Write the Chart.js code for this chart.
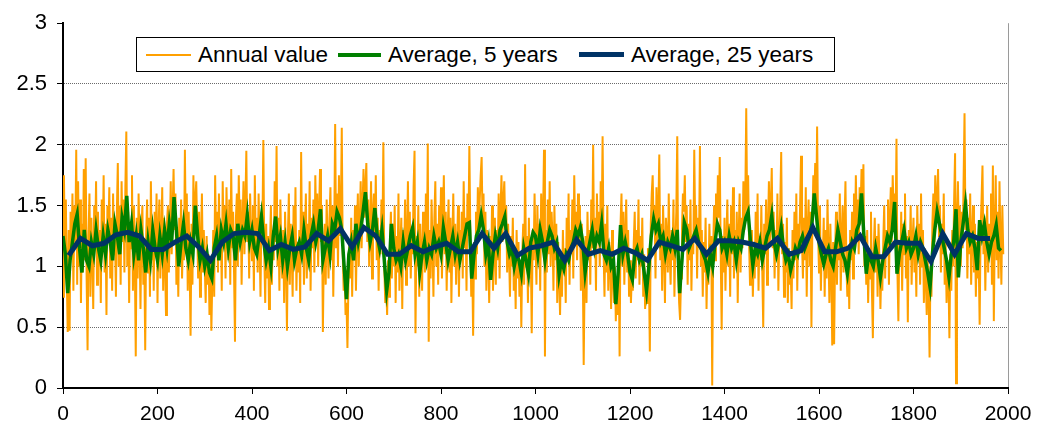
<!DOCTYPE html>
<html>
<head>
<meta charset="utf-8">
<script src="https://cdn.jsdelivr.net/npm/chart.js@4.4.1/dist/chart.umd.min.js"></script>
<style>
  body { margin: 0; background: #fff; font-family: Arial, "Liberation Sans", sans-serif; }
  #wrap { position: relative; width: 1041px; height: 437px; }
  #legend { position: absolute; left: 136px; top: 37px; width: 697px; height: 33px; border: 1px solid #000; background: #fff; }
  .sw { position: absolute; }
  .lb { position: absolute; top: 0; font-size: 22.5px; line-height: 33px; white-space: nowrap; color: #000; }
</style>
</head>
<body>
<div id="wrap">
  <canvas id="chart" width="1041" height="437"></canvas>
  <div id="legend">
    <span class="sw" style="left:9px;top:16px;width:45px;height:2px;background:#FFA000"></span>
    <span class="lb" style="left:61px">Annual value</span>
    <span class="sw" style="left:201px;top:15px;width:43px;height:4px;background:#008000"></span>
    <span class="lb" style="left:251px">Average, 5 years</span>
    <span class="sw" style="left:442px;top:14px;width:45px;height:5px;background:#003366"></span>
    <span class="lb" style="left:494px">Average, 25 years</span>
  </div>
</div>
<script>
// annual values, one every 2 years from year 0
const annualStart = 0, annualStep = 2;
const annualValues = [
  0.75,1.75,1.05,1.55,0.9,0.46,1.3,0.47,1.45,1.1, 1.6,0.8,1.5,1.2,1.96,0.85,1.7,1.0,1.55,0.7, 1.35,0.95,1.8,1.05,1.89,0.9,0.31,1.25,1.6,0.75, 1.4,1.1,0.65,1.5,1.2,1.7,0.85,1.45,1.0,1.3, 0.7,1.55,1.15,1.75,0.95,1.35,0.6,1.5,1.25,1.65,
  0.9,1.4,0.8,1.6,1.1,1.3,0.75,1.45,1.85,1.0, 1.5,0.85,1.7,1.2,1.55,0.95,1.65,2.11,1.0,1.45, 0.7,1.35,1.15,1.75,0.8,1.5,1.05,0.26,1.4,0.9, 1.6,1.2,0.65,1.3,1.5,0.85,1.1,0.31,1.25,1.55, 0.95,1.4,0.75,1.7,1.05,1.35,0.8,1.45,1.15,1.6,
  0.7,1.3,1.55,0.9,1.2,1.65,0.8,1.4,1.05,0.6, 1.35,1.5,0.95,1.25,1.7,1.1,1.45,1.8,1.3,1.6, 0.85,1.25,0.75,1.4,1.1,1.55,0.9,1.3,1.05,1.96, 1.2,1.6,0.8,1.45,1.0,0.43,1.35,0.85,1.75,1.25, 1.55,1.7,1.3,0.9,1.45,0.75,1.2,1.6,0.95,1.3,
  1.0,0.7,1.25,0.85,1.1,0.6,1.05,0.47,0.9,1.3, 0.75,1.75,1.15,1.45,0.95,1.6,1.1,1.35,0.8,1.7, 1.2,1.5,0.9,1.65,1.25,1.05,1.55,0.85,1.8,1.15, 1.45,0.95,0.38,1.4,1.6,1.0,1.75,1.3,1.55,0.85, 1.35,1.7,1.1,1.5,1.95,1.2,1.45,0.9,1.6,1.3,
  1.05,1.5,0.8,1.75,1.15,1.4,0.95,1.6,1.2,0.75, 1.45,1.3,2.04,1.1,0.7,1.35,0.9,1.25,0.65,1.15, 1.5,0.85,1.3,1.05,1.7,1.2,1.99,1.0,1.4,0.8, 1.55,1.15,0.9,1.3,0.7,1.45,1.05,0.47,1.25,1.6, 0.85,1.35,1.1,0.75,1.5,1.0,1.65,0.8,1.2,0.95,
  1.3,0.7,1.94,1.1,1.45,0.85,1.25,1.6,0.9,1.35, 1.05,1.7,0.8,1.4,1.15,1.55,0.95,1.75,1.3,1.6, 1.0,1.45,1.8,1.2,1.5,0.46,1.1,1.35,0.85,1.55, 1.2,0.9,1.4,1.65,1.05,1.5,0.75,1.3,2.17,1.15, 1.6,1.0,1.75,1.25,1.45,2.14,1.1,0.8,0.95,0.6,
  0.7,0.33,0.85,1.2,0.9,1.4,0.75,1.3,1.05,1.5, 0.8,1.25,1.6,1.0,1.35,1.7,1.15,1.5,1.8,1.4, 1.65,1.85,1.2,1.55,1.0,1.3,1.7,0.9,1.45,1.6, 1.25,1.75,1.05,1.4,0.8,1.3,1.1,1.55,1.2,2.02, 1.0,0.7,0.85,0.6,1.05,0.75,1.2,1.45,0.9,1.35,
  1.0,1.5,0.7,1.25,0.95,1.6,0.8,1.15,1.4,0.65, 1.3,1.05,1.55,0.85,1.2,1.7,1.0,1.45,0.9,1.3, 1.1,1.65,1.95,0.45,1.25,1.0,1.5,0.75,1.35,1.1, 0.8,1.45,1.2,0.95,1.6,1.05,2.01,0.38,1.3,0.9, 1.55,1.15,0.75,1.4,1.7,1.0,1.35,0.85,1.5,1.2,
  1.65,0.9,1.3,1.75,1.1,1.45,0.8,1.25,1.55,0.95, 1.4,0.7,1.2,1.6,1.0,1.35,0.85,1.15,1.5,0.75, 1.3,1.05,1.45,0.9,1.7,1.15,1.4,0.8,1.6,1.25, 1.99,1.3,0.75,1.05,0.43,1.2,0.9,1.45,1.1,1.65, 1.3,1.55,1.75,1.9,1.35,1.6,1.0,1.45,0.8,1.3,
  1.1,0.7,1.25,0.95,1.5,0.8,1.15,1.4,0.85,1.3, 1.05,1.6,0.9,1.45,1.75,1.2,1.55,1.7,1.3,1.5, 0.95,1.35,1.1,0.75,1.25,1.0,1.4,0.8,1.15,0.65, 1.3,0.9,1.2,0.75,1.05,0.5,1.1,1.35,0.85,1.84, 1.0,1.25,0.7,1.4,0.9,1.15,0.45,1.3,1.05,1.6,
  1.2,0.85,1.5,1.05,1.35,0.8,1.6,1.15,1.4,1.96, 0.26,1.3,0.95,1.55,1.1,1.7,1.0,1.45,1.25,0.8, 1.5,1.05,1.35,0.7,1.2,0.9,0.6,1.1,0.75,1.3, 0.95,1.15,0.7,1.4,1.05,1.6,0.85,1.3,1.1,1.55, 0.9,1.75,1.25,1.45,1.05,1.6,1.2,1.5,0.8,1.35,
  1.0,0.19,0.9,1.25,0.7,1.45,1.05,1.3,0.85,1.55, 1.15,2.0,1.1,1.4,0.8,1.6,1.2,1.45,1.0,1.7, 1.3,2.07,1.15,0.75,1.35,0.95,1.5,0.8,1.2,1.05, 0.65,1.3,0.9,0.7,1.0,0.55,0.85,0.6,1.1,0.26, 1.35,1.6,1.0,1.45,0.85,1.25,1.55,0.95,1.3,0.75,
  1.05,0.7,0.95,0.8,1.2,1.45,0.9,1.3,1.05,1.55, 0.85,1.25,1.0,1.4,0.75,1.1,0.65,0.9,0.7,1.15, 0.95,0.3,1.35,1.6,1.75,1.3,1.5,0.9,1.65,1.2, 1.45,1.92,1.05,1.35,0.8,1.5,1.15,0.7,1.4,1.25, 0.95,1.6,1.1,0.85,1.3,1.05,1.55,0.75,1.2,1.45,
  2.07,1.0,0.7,0.56,0.9,1.3,1.6,1.45,1.75,1.2, 1.5,0.85,1.35,1.05,1.55,0.8,1.25,1.1,1.96,1.3, 1.5,0.9,1.4,1.15,1.99,1.0,1.3,0.75,1.2,0.95, 1.4,0.65,1.1,0.85,1.35,1.0,1.25,0.02,1.15,1.5, 1.05,1.6,1.3,1.75,1.4,1.9,1.1,0.48,1.25,0.95,
  1.4,0.8,1.2,1.55,1.0,1.35,0.75,1.5,1.1,1.65, 0.9,1.3,1.05,1.45,0.7,1.25,1.6,0.95,1.4,1.15, 1.7,1.3,1.55,2.3,1.45,1.75,1.2,0.85,1.05,1.3, 0.75,1.1,0.9,1.45,1.0,1.6,0.8,1.25,1.05,1.5, 0.95,0.5,1.35,1.1,1.55,0.85,1.3,1.7,1.2,1.5,
  1.81,1.15,1.45,0.9,1.3,1.05,1.6,0.8,1.25,1.5, 1.94,1.1,1.35,0.75,1.2,0.95,1.4,0.7,1.15,0.85, 1.0,0.65,1.3,0.9,1.45,1.05,1.6,0.8,1.35,1.1, 1.5,1.91,1.2,0.9,1.4,1.05,1.65,0.75,1.3,1.55, 1.0,1.45,0.5,1.35,1.75,1.55,1.85,1.4,2.15,1.3,
  0.95,1.5,0.8,1.2,1.05,1.4,0.75,1.3,0.9,1.55, 1.1,0.7,1.35,1.0,0.35,1.2,0.36,1.1,1.45,0.85, 1.3,1.05,1.6,0.8,1.25,1.5,0.95,1.35,1.7,1.0, 0.75,1.15,0.65,1.3,1.05,1.45,0.9,1.6,1.2,1.75, 1.3,1.55,1.1,1.65,1.45,1.8,1.35,1.84,1.0,1.25,
  0.85,1.3,0.7,1.1,0.9,1.45,0.8,0.41,1.15,1.4, 0.95,1.25,0.75,1.35,1.05,0.65,1.0,0.8,1.2,1.5, 0.9,1.3,1.1,1.55,0.85,1.4,1.65,1.2,1.75,1.45, 1.6,1.3,2.05,0.95,0.55,1.2,1.0,1.45,0.8,1.35, 1.1,1.6,0.9,1.25,0.54,1.3,1.05,1.5,0.85,1.2,
  1.4,0.95,1.25,0.75,1.5,1.1,1.35,0.85,1.6,1.0, 1.3,0.7,1.15,0.9,0.6,1.05,0.8,0.25,1.0,0.75, 1.35,1.6,1.2,1.75,1.4,1.55,1.8,1.25,1.5,0.95, 1.35,1.1,1.6,0.85,1.2,0.7,1.05,0.9,0.41,1.1, 0.8,1.3,1.0,1.55,1.93,0.04,1.4,1.7,1.2,1.5,
  1.0,1.45,1.15,1.7,2.26,1.3,1.55,0.9,1.4,1.1, 1.6,0.85,1.25,1.5,0.95,1.35,0.75,1.2,0.9,1.05, 0.52,1.3,1.55,1.83,1.1,1.4,0.8,1.25,1.5,0.95, 1.35,1.15,1.6,0.85,1.83,0.55,1.3,1.75,1.05,1.45, 0.9,1.7,1.2,0.85,1.5,1.1
];

// 5-year average, every 5 years from year 0
const avg5Start = 0, avg5Step = 5;
const avg5Values = [
  1.25,1.1,0.78,1.05,1.2,1.35,1.43,1.15,0.95,1.3,1.05,1.0,1.2,1.1,1.3,1.15,1.05,1.25,1.1,1.3,
  1.2,1.05,1.35,1.25,1.1,1.4,1.3,1.58,1.2,1.35,1.1,1.25,1.05,1.3,1.15,0.95,1.2,1.05,1.3,1.15,
  1.05,1.25,1.1,1.3,1.15,1.35,1.2,1.57,1.3,1.0,1.2,1.35,1.15,1.05,1.2,1.1,1.5,1.25,1.05,1.15,
  1.0,1.1,0.95,0.9,1.15,1.25,1.05,1.3,1.2,1.35,1.15,1.3,1.25,1.05,1.35,1.2,1.3,1.25,1.42,1.2,
  1.3,1.15,1.1,1.25,1.41,1.2,1.05,1.15,1.0,1.25,1.41,1.15,1.25,1.05,1.2,1.0,1.15,1.25,1.05,1.15,
  1.2,1.1,1.3,1.15,1.05,1.25,1.35,1.2,1.3,1.47,1.05,1.15,1.25,1.1,1.35,1.3,1.45,1.4,1.3,1.0,
  0.73,1.1,1.2,1.05,1.35,1.2,1.3,1.45,1.61,1.35,1.2,1.3,1.48,1.25,1.15,1.3,1.05,0.8,0.95,1.35,
  1.15,1.05,1.1,1.0,1.2,1.05,1.15,1.25,1.32,1.1,1.2,0.95,1.1,1.2,1.05,1.15,1.1,1.25,1.15,1.2,
  1.1,1.32,1.2,1.05,1.15,1.25,1.1,1.2,1.05,1.15,1.25,1.35,1.36,0.9,1.1,1.25,1.3,1.42,1.3,1.1,
  1.2,0.89,1.1,1.25,1.15,1.3,1.35,1.41,1.2,1.1,1.15,1.0,1.1,1.05,0.94,1.15,1.05,0.94,1.2,1.28,
  1.25,1.1,1.3,1.2,1.05,1.2,1.3,1.25,1.15,1.2,0.93,1.05,0.98,1.1,1.05,1.15,1.2,1.3,1.25,1.32,
  1.2,0.95,1.1,1.2,1.3,1.15,1.25,1.2,1.35,1.1,1.05,1.15,1.0,1.05,0.69,0.95,1.34,1.1,1.2,1.1,
  0.95,0.89,1.1,1.15,1.05,1.1,0.95,0.8,1.0,1.25,1.39,1.3,1.35,1.2,1.25,1.1,1.2,1.15,1.25,1.15,
  1.3,0.78,1.05,1.36,1.3,1.15,1.2,1.25,1.3,1.2,1.15,1.1,1.05,0.95,1.1,1.0,1.2,1.35,1.3,1.15,
  1.2,1.1,1.25,1.15,1.2,1.05,1.2,1.15,1.3,1.4,1.45,1.2,1.01,1.15,1.1,1.2,1.05,1.15,1.25,1.3,
  1.42,1.2,1.1,1.2,1.32,1.15,1.05,1.1,0.97,1.05,1.15,1.1,1.2,1.25,1.15,1.2,1.25,1.35,1.6,1.4,
  1.2,1.1,1.02,1.1,1.15,1.05,1.0,1.15,1.3,1.2,1.1,1.05,0.94,1.1,1.2,1.15,1.3,1.35,1.6,1.25,
  0.94,1.1,1.05,1.0,1.15,1.05,0.91,1.05,1.15,1.25,1.2,1.3,1.53,0.94,1.1,1.2,1.3,1.15,1.2,1.1,
  1.15,1.25,1.1,1.2,1.15,1.05,0.95,0.83,1.1,1.3,1.45,1.35,1.25,1.15,1.05,0.91,1.1,1.2,1.47,0.91,
  1.2,1.35,1.51,1.3,1.2,1.25,1.15,0.97,1.38,1.25,1.35,1.2,1.1,1.2,1.25,1.34,1.15,1.13
];

// 25-year average, centred every 25 years from year 12
const avg25Start = 12, avg25Step = 25;
const avg25Values = [
  1.09,1.23,1.17,1.19,1.26,1.28,1.25,1.14,1.14,1.20,
  1.25,1.16,1.05,1.20,1.27,1.28,1.27,1.13,1.18,1.14,
  1.16,1.27,1.21,1.31,1.16,1.32,1.25,1.10,1.10,1.17,
  1.12,1.16,1.19,1.12,1.12,1.27,1.15,1.27,1.09,1.15,
  1.17,1.20,1.05,1.22,1.10,1.13,1.10,1.15,1.11,1.05,
  1.20,1.17,1.14,1.23,1.10,1.21,1.21,1.20,1.18,1.15,
  1.23,1.10,1.13,1.32,1.12,1.12,1.15,1.25,1.08,1.08,
  1.20,1.19,1.19,1.04,1.27,1.10,1.27,1.23,1.23
];

const seriesLabels = ['Annual value', 'Average, 5 years', 'Average, 25 years'];
const xTickLabels = ['0','200','400','600','800','1000','1200','1400','1600','1800','2000'];
const yTickLabels = ['0','0.5','1','1.5','2','2.5','3'];

function toPoints(values, start, step) {
  return values.map((v, i) => ({x: start + i * step, y: v}));
}

Chart.defaults.font.family = 'Arial, "Liberation Sans", sans-serif';
Chart.defaults.color = '#000';

const ctx = document.getElementById('chart').getContext('2d');
new Chart(ctx, {
  type: 'line',
  data: {
    datasets: [
      {label: seriesLabels[0], data: toPoints(annualValues, annualStart, annualStep),
       borderColor: '#FFA000', borderWidth: 2, pointRadius: 0, tension: 0, order: 3},
      {label: seriesLabels[1], data: toPoints(avg5Values, avg5Start, avg5Step),
       borderColor: '#008000', borderWidth: 3.5, pointRadius: 0, tension: 0, order: 2},
      {label: seriesLabels[2], data: toPoints(avg25Values, avg25Start, avg25Step),
       borderColor: '#003366', borderWidth: 5, pointRadius: 0, tension: 0, order: 1}
    ]
  },
  options: {
    responsive: false,
    animation: false,
    layout: {padding: {left: 0, top: 22, right: 33, bottom: 0}},
    plugins: {legend: {display: false}, tooltip: {enabled: false}},
    scales: {
      x: {
        type: 'linear', min: 0, max: 2000,
        ticks: {stepSize: 200, maxRotation: 0, autoSkip: false, padding: 8, font: {size: 21},
                callback: (v, i) => xTickLabels[i]},
        grid: {
          color: c => (c.tick && c.tick.value === 2000) ? '#9a9a9a' : 'rgba(0,0,0,0)',
          tickColor: '#000', tickLength: 6, lineWidth: 1
        },
        border: {color: '#000', width: 2},
        afterFit: s => { s.height = 49; }
      },
      y: {
        min: 0, max: 3,
        ticks: {stepSize: 0.5, padding: 10, font: {size: 22},
                callback: (v, i) => yTickLabels[i]},
        grid: {
          color: c => (c.tick && c.tick.value > 0 && c.tick.value < 3) ? '#6a6a6a' : 'rgba(0,0,0,0)',
          tickColor: '#000', tickLength: 6, lineWidth: 1
        },
        border: {color: '#000', width: 2, dash: [1, 1]},
        afterFit: s => { s.width = 63; }
      }
    }
  }
});
</script>
</body>
</html>
